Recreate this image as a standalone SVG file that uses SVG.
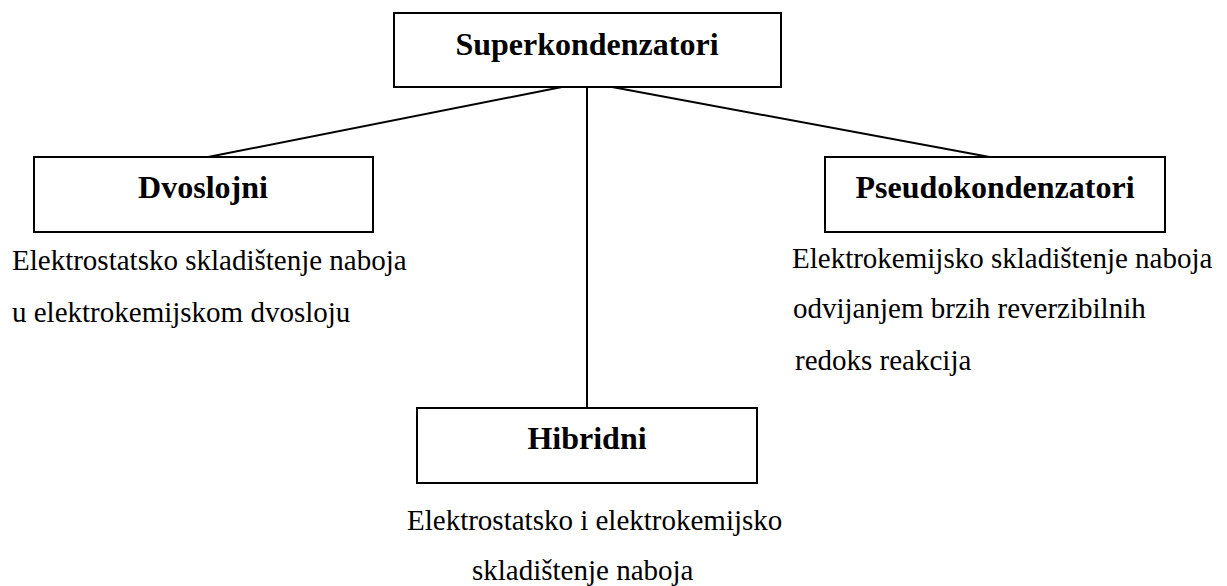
<svg xmlns="http://www.w3.org/2000/svg" width="1227" height="586" viewBox="0 0 1227 586">
<style>
.box{fill:#fff;stroke:#000;stroke-width:2}
.t{font-family:'Liberation Serif','Times New Roman',serif;font-weight:bold;font-size:32px;fill:#000;text-anchor:middle}
.d{font-family:'Liberation Serif','Times New Roman',serif;font-weight:normal;font-size:29px;fill:#000}
.c{stroke:#000;stroke-width:2;fill:none}
</style>
<rect width="1227" height="586" fill="#fff"/>
<g id="connectors">
<line class="c" x1="562" y1="87" x2="203" y2="158"/>
<line class="c" x1="587" y1="87" x2="587" y2="408"/>
<line class="c" x1="612" y1="87" x2="995" y2="158"/>
</g>
<g id="superkondenzatori">
<rect class="box" x="394" y="13" width="387" height="74"/>
<text class="t" x="587" y="55">Superkondenzatori</text>
</g>
<g id="dvoslojni">
<rect class="box" x="34" y="157" width="339" height="75"/>
<text class="t" x="203" y="198">Dvoslojni</text>
<text class="d" x="12" y="270">Elektrostatsko skladištenje naboja</text>
<text class="d" x="12" y="322">u elektrokemijskom dvosloju</text>
</g>
<g id="pseudokondenzatori">
<rect class="box" x="825" y="157" width="340" height="75"/>
<text class="t" x="995" y="198">Pseudokondenzatori</text>
<text class="d" x="792" y="268">Elektrokemijsko skladištenje naboja</text>
<text class="d" x="793" y="318">odvijanjem brzih reverzibilnih</text>
<text class="d" x="795" y="370">redoks reakcija</text>
</g>
<g id="hibridni">
<rect class="box" x="417" y="408" width="340" height="75"/>
<text class="t" x="587" y="449">Hibridni</text>
<text class="d" x="407" y="530">Elektrostatsko i elektrokemijsko</text>
<text class="d" x="472" y="580">skladištenje naboja</text>
</g>
</svg>
